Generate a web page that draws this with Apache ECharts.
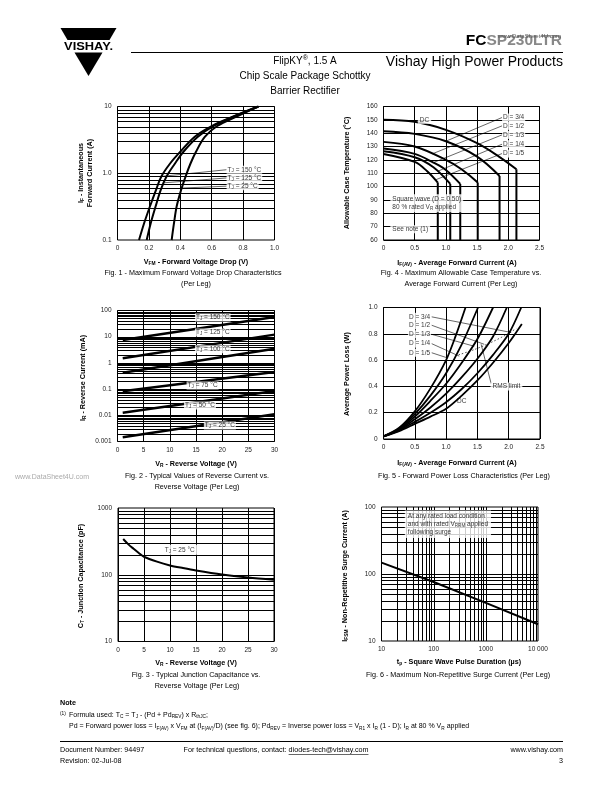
<!DOCTYPE html>
<html>
<head>
<meta charset="utf-8">
<script src="https://cdn.jsdelivr.net/npm/echarts@6.0.0/dist/echarts.min.js"></script>
<style>
html,body{margin:0;padding:0;background:#fff;}
#chart{width:612px;height:792px;}
</style>
</head>
<body>
<div id="chart"></div>
<script>
// ================= DATA =================
// Fig. 1 - forward voltage drop: [V_FM (V), I_F (A)]
const fig1Tj150 = [[0.137,0.1],[0.17,0.18],[0.207,0.32],[0.245,0.56],[0.28,0.9],[0.335,1.4],[0.40,2.1],[0.49,3.5],[0.60,5.1],[0.745,7.2],[0.895,10]];
const fig1Tj125 = [[0.186,0.1],[0.212,0.18],[0.243,0.32],[0.275,0.56],[0.313,0.9],[0.366,1.4],[0.42,2.1],[0.51,3.5],[0.61,5.1],[0.75,7.2],[0.9,10]];
const fig1Tj25  = [[0.345,0.1],[0.36,0.18],[0.377,0.32],[0.405,0.56],[0.434,0.9],[0.465,1.4],[0.50,2.1],[0.556,3.5],[0.635,5.1],[0.765,7.2],[0.895,10]];
const fig1XTicks = ['0','0.2','0.4','0.6','0.8','1.0'];
const fig1YTicks = ['0.1','1.0','10'];
const fig1Labels = [[0.695,1.13,'T{s|J} = 150 °C'],[0.695,0.85,'T{s|J} = 125 °C'],[0.695,0.64,'T{s|J} = 25 °C']];
const fig1Leaders = [[[0.695,1.13],[0.285,0.9]],[[0.695,0.85],[0.297,0.72]],[[0.695,0.64],[0.41,0.6]]];

// Fig. 4 - allowable case temperature: [I_F(AV) (A), T_C (°C)]
const fig4DC  = [[0,150],[0.5,148.5],[1.0,142.5],[1.5,132.5],[1.85,122.5],[2.13,113]];
const fig4D34 = [[0,141.5],[0.5,139.5],[1.0,134],[1.5,122.5],[1.86,108]];
const fig4D12 = [[0,133.5],[0.5,130],[1.0,120],[1.25,113],[1.51,103]];
const fig4D13 = [[0,128.5],[0.5,124.5],[0.8,118],[1.0,112.5],[1.23,102]];
const fig4D14 = [[0,126.5],[0.5,122],[0.8,114.5],[1.07,102]];
const fig4D15 = [[0,124.5],[0.5,118.5],[0.7,111.5],[0.87,103]];
const fig4XTicks = ['0','0.5','1.0','1.5','2.0','2.5'];
const fig4YTicks = ['60','70','80','90','100','110','120','130','140','150','160'];
const fig4Labels = [[1.9,151.75,'D = 3/4'],[1.9,145.5,'D = 1/2'],[1.9,138.75,'D = 1/3'],[1.9,131.75,'D = 1/4'],[1.9,124.75,'D = 1/5']];
const fig4Leaders = [[[1.9,151.75],[1.0,134]],[[1.9,145.5],[0.78,124.5]],[[1.9,138.75],[0.8,118]],[[1.9,131.75],[0.87,111.5]],[[1.9,124.75],[0.83,105]]];

// Fig. 2 - reverse current: [V_R (V), I_R (mA)]
const fig2Tj150 = [[1,7.5],[30,56]];
const fig2Tj125 = [[1,1.5],[30,12]];
const fig2Tj100 = [[1,0.42],[30,3.5]];
const fig2Tj75  = [[1,0.083],[30,0.45]];
const fig2Tj50  = [[1,0.0124],[30,0.085]];
const fig2Tj25  = [[1,0.00146],[30,0.011]];
const fig2XTicks = ['0','5','10','15','20','25','30'];
const fig2YTicks = ['0.001','0.01','0.1','1','10','100'];
const fig2Labels = [[14.8,54,'T{s|J} = 150 °C'],[14.8,14.5,'T{s|J} = 125 °C'],[14.8,3.3,'T{s|J} = 100 °C'],[13.2,0.138,'T{s|J} = 75 °C'],[12.7,0.0236,'T{s|J} = 50 °C'],[16.5,0.0041,'T{s|J} = 25 °C']];

// Fig. 5 - forward power loss: [I_F(AV) (A), P (W)]
const fig5D15 = [[0,0.02],[0.25,0.085],[0.5,0.21],[0.75,0.385],[1.0,0.6],[1.15,0.78],[1.31,1.0]];
const fig5D14 = [[0,0.02],[0.25,0.08],[0.5,0.19],[0.75,0.33],[1.0,0.5],[1.25,0.72],[1.51,1.0]];
const fig5D13 = [[0,0.02],[0.25,0.075],[0.5,0.17],[0.75,0.29],[1.0,0.42],[1.25,0.58],[1.5,0.76],[1.75,1.0]];
const fig5D12 = [[0,0.02],[0.25,0.07],[0.5,0.15],[0.75,0.24],[1.0,0.345],[1.25,0.47],[1.5,0.61],[1.75,0.78],[1.97,1.0]];
const fig5D34 = [[0,0.02],[0.25,0.065],[0.5,0.13],[0.75,0.2],[1.0,0.28],[1.25,0.38],[1.5,0.5],[1.75,0.64],[2.0,0.8],[2.2,1.0]];
const fig5DC  = [[0,0.02],[0.25,0.06],[0.5,0.115],[0.75,0.17],[1.0,0.23],[1.25,0.33],[1.5,0.445],[1.75,0.58],[2.0,0.73],[2.21,0.875]];
const fig5Rms = [[1.2,0.64],[1.45,0.68],[1.7,0.73],[1.95,0.79],[2.12,0.84]];
const fig5XTicks = ['0','0.5','1.0','1.5','2.0','2.5'];
const fig5YTicks = ['0','0.2','0.4','0.6','0.8','1.0'];
const fig5Labels = [[0.76,0.929,'D = 3/4'],[0.76,0.865,'D = 1/2'],[0.76,0.796,'D = 1/3'],[0.76,0.725,'D = 1/4'],[0.76,0.656,'D = 1/5']];
const fig5Leaders = [[[0.77,0.929],[2.04,0.81]],[[0.77,0.865],[1.61,0.72]],[[0.77,0.796],[1.45,0.705]],[[0.77,0.725],[1.21,0.63]],[[0.77,0.656],[1.0,0.62]],[[1.72,0.42],[1.56,0.72]]];

// Fig. 3 - junction capacitance: [V_R (V), C_T (pF)]
const fig3Tj25 = [[1,343],[2,285],[3,245],[4,212],[5,186],[7.5,157],[10,138],[12.5,126],[15,116],[20,101],[25,91],[30,84]];
const fig3XTicks = ['0','5','10','15','20','25','30'];
const fig3YTicks = ['10','100','1000'];

// Fig. 6 - surge current: [t_p (µs), I_FSM (A)]
const fig6Surge = [[10,148],[100,76],[1000,37],[10000,17.8]];
const fig6XTicks = ['10','100','1000','10 000'];
const fig6YTicks = ['10','100','100'];

// ================= HELPERS =================
const FONT = '"Liberation Sans", Arial, Helvetica, sans-serif';
const LRICH = {s:{fontSize:4.6, color:'#000', fontFamily:FONT, verticalAlign:'bottom', lineHeight:8}};

function valAxis(gi, min, max, interval, ticks, isX) {
  return {type:'value', gridIndex:gi, min, max, interval,
    axisLine:{show:false}, axisTick:{show:false},
    splitLine:{show:true, lineStyle:{color:'#000', width:1}},
    axisLabel:{fontSize:6.5, color:'#222', fontFamily:FONT, margin:isX?5:6, showMinLabel:true, showMaxLabel:true,
      formatter:(v)=>ticks[Math.round((v-min)/interval)]}};
}
function logAxis(gi, min, max, ticks, isX) {
  return {type:'log', logBase:10, gridIndex:gi, min, max,
    axisLine:{show:false}, axisTick:{show:false}, splitLine:{show:false}, minorSplitLine:{show:false},
    axisLabel:{fontSize:6.5, color:'#222', fontFamily:FONT, margin:isX?5:6, showMinLabel:true, showMaxLabel:true,
      formatter:(v)=>ticks[Math.round(Math.log10(v/min))]}};
}
function minorVals(lo, hi) { // 2..9 multiples of each decade strictly inside (lo,hi)
  const out = [];
  for (let d = lo; d < hi; d *= 10) for (let k = 1; k <= 9; k++) { const v = d*k; if (v > lo*1.0001 && v < hi*0.9999) out.push(v); }
  return out;
}
function gridLines(gi, xVals, yVals, xMin, yMin) {
  const data = xVals.map(v=>[v, yMin, 0]).concat(yVals.map(v=>[xMin, v, 1]));
  return {type:'custom', xAxisIndex:gi, yAxisIndex:gi, silent:true, z:1, data, encode:{x:0, y:1},
    renderItem(params, api) {
      const cs = params.coordSys;
      const p = api.coord([api.value(0), api.value(1)]);
      if (api.value(2) === 0) {
        const x = Math.round(p[0]) + 0.5;
        return {type:'line', shape:{x1:x, y1:cs.y, x2:x, y2:cs.y+cs.height}, style:{stroke:'#000', lineWidth:1}};
      }
      const y = Math.round(p[1]) + 0.5;
      return {type:'line', shape:{x1:cs.x, y1:y, x2:cs.x+cs.width, y2:y}, style:{stroke:'#000', lineWidth:1}};
    }};
}
function curve(gi, data, w, smooth) {
  return {type:'line', xAxisIndex:gi, yAxisIndex:gi, data, symbol:'none', silent:true, z:3,
    smooth: smooth === undefined ? 0.3 : smooth, lineStyle:{color:'#000', width:w}};
}
function leader(gi, pts, w) {
  return {type:'line', xAxisIndex:gi, yAxisIndex:gi, data:pts, symbol:'none', silent:true, z:4,
    lineStyle:{color:'#000', width:w||0.6}};
}
function tag(gi, x, y, text, pos, extra) {
  return {type:'scatter', xAxisIndex:gi, yAxisIndex:gi, symbolSize:0, silent:true, z:20,
    data:[[x, y]],
    label:Object.assign({show:true, position:pos||'right', distance:0, formatter:text, color:'#000',
      fontSize:6.5, fontFamily:FONT, lineHeight:8, backgroundColor:'#fff', padding:[0,1,0,1], rich:LRICH}, extra||{})};
}
function mkRich(size, bold, color) {
  const w = bold ? 'bold' : 'normal', c = color || '#000', lh = Math.round(size*1.3);
  return {
    s:{fontSize:size*0.68, fontWeight:w, fontFamily:FONT, fill:c, color:c, verticalAlign:'bottom', lineHeight:lh},
    u:{fontSize:size*0.7, fontWeight:'normal', fontFamily:FONT, fill:c, color:c, verticalAlign:'top', lineHeight:lh},
    g:{fontSize:size, fontWeight:w, fontFamily:FONT, fill:'#888', color:'#888', lineHeight:lh},
    l:{fontSize:size, fontWeight:w, fontFamily:FONT, fill:c, color:c, lineHeight:lh}
  };
}
function T(x, y, text, o) {
  o = o || {};
  const size = o.size || 7.5, bold = !!o.bold, color = o.color || '#000';
  return {type:'text', x, y, rotation:o.rot||0, scaleX:o.sx||1, silent:true, z:100,
    style:{text, fill:color, fontSize:size, fontFamily:FONT, fontWeight:bold?'bold':'normal',
      lineHeight:Math.round(size*1.3),
      align:o.align||'center', verticalAlign:'middle', textAlign:o.align||'center', textVerticalAlign:'middle',
      rich:mkRich(size, bold, color)}};
}
function L(x1, y1, x2, y2, w) {
  return {type:'line', silent:true, z:100, shape:{x1, y1, x2, y2}, style:{stroke:'#000', lineWidth:w||1}};
}

// ================= CHART =================
const grids = [
  {left:117.5, top:106.5, width:157, height:133.5},   // 0: Fig 1
  {left:383.5, top:106.5, width:156, height:133.5},   // 1: Fig 4
  {left:117.5, top:310.5, width:157, height:131},     // 2: Fig 2
  {left:383.5, top:307.5, width:156.5, height:131.5}, // 3: Fig 5
  {left:118,   top:508,   width:156, height:133.5},   // 4: Fig 3
  {left:381.5, top:507,   width:156.5, height:134}    // 5: Fig 6
].map(g => Object.assign({show:true, borderColor:'#000', borderWidth:1, backgroundColor:'transparent'}, g));

const xAxes = [
  valAxis(0, 0, 1, 0.2, fig1XTicks, true),
  valAxis(1, 0, 2.5, 0.5, fig4XTicks, true),
  valAxis(2, 0, 30, 5, fig2XTicks, true),
  valAxis(3, 0, 2.5, 0.5, fig5XTicks, true),
  valAxis(4, 0, 30, 5, fig3XTicks, true),
  logAxis(5, 10, 10000, fig6XTicks, true)
];
const yAxes = [
  logAxis(0, 0.1, 10, fig1YTicks, false),
  valAxis(1, 60, 160, 10, fig4YTicks, false),
  logAxis(2, 0.001, 100, fig2YTicks, false),
  valAxis(3, 0, 1, 0.2, fig5YTicks, false),
  logAxis(4, 10, 1000, fig3YTicks, false),
  logAxis(5, 10, 1000, fig6YTicks, false)
];

const series = [];
// Fig 1
series.push(gridLines(0, [], minorVals(0.1, 10), 0, 0.1));
[fig1Tj150, fig1Tj125, fig1Tj25].forEach(d => series.push(curve(0, d, 2, 0.35)));
fig1Leaders.forEach(p => series.push(leader(0, p)));
fig1Labels.forEach(l => series.push(tag(0, l[0], l[1], l[2])));
// Fig 4
[fig4DC, fig4D34, fig4D12, fig4D13, fig4D14, fig4D15].forEach(d => {
  series.push(curve(1, d, 2, 0.35));
  const e = d[d.length-1];
  series.push(curve(1, [e, [e[0], 60]], 2, false));
});
fig4Leaders.forEach(p => series.push(leader(1, p)));
fig4Labels.forEach(l => series.push(tag(1, l[0], l[1], l[2])));
series.push(tag(1, 0.55, 150, 'DC', 'right', {padding:[0,2,0,2]}));
series.push(tag(1, 0.11, 87.5, 'Square wave (D = 0.50)\n80 % rated V{s|R} applied', 'right', {padding:[1,2,1,2]}));
series.push(tag(1, 0.11, 68, 'See note (1)', 'right', {padding:[0,2,0,2]}));
// Fig 2
series.push(gridLines(2, [], minorVals(0.001, 100), 0, 0.001));
[fig2Tj150, fig2Tj125, fig2Tj100, fig2Tj75, fig2Tj50, fig2Tj25].forEach(d => series.push(curve(2, d, 2.5, false)));
fig2Labels.forEach(l => series.push(tag(2, l[0], l[1], l[2])));
// Fig 5
[fig5D15, fig5D14, fig5D13, fig5D12, fig5D34, fig5DC].forEach(d => series.push(curve(3, d, 1.8, 0.3)));
series.push({type:'line', xAxisIndex:3, yAxisIndex:3, data:fig5Rms, symbol:'none', silent:true, z:4, smooth:0.3,
  lineStyle:{color:'#000', width:0.7, type:[1.5,2]}});
fig5Leaders.forEach(p => series.push(leader(3, p)));
fig5Labels.forEach(l => series.push(tag(3, l[0], l[1], l[2], 'left')));
series.push(tag(3, 1.71, 0.40, 'RMS limit', 'right', {padding:[0,2,0,2]}));
series.push(tag(3, 1.25, 0.285, 'DC', 'inside', {backgroundColor:'transparent'}));
// Fig 3
series.push(gridLines(4, [], minorVals(10, 1000), 0, 10));
series.push(curve(4, fig3Tj25, 2, 0.3));
series.push(tag(4, 8.4, 237, 'T{s|J} = 25 °C', 'right', {padding:[1,3,1,3]}));
// Fig 6
series.push(gridLines(5, minorVals(10, 10000), minorVals(10, 1000), 10, 10));
series.push(curve(5, fig6Surge, 2, false));
series.push(tag(5, 28, 552, 'At any rated load condition\nand with rated V{s|RRM} applied\nfollowing surge', 'right', {padding:[2,3,2,3], lineHeight:7.8}));

// ================= PAGE TEXT =================
const R90 = Math.PI / 2;
const graphic = [
  // logo
  {type:'polygon', silent:true, shape:{points:[[60.5,28],[116.5,28],[109.5,40],[67.5,40]]}, style:{fill:'#000'}},
  {type:'polygon', silent:true, shape:{points:[[74.5,52.5],[102.5,52.5],[88.5,76]]}, style:{fill:'#000'}},
  T(88.5, 46.5, 'VISHAY.', {size:11.5, bold:true, sx:1.12}),
  L(131, 52.5, 563, 52.5, 1),
  T(562, 41, 'FC{g|SP230LTR}', {size:15.5, bold:true, align:'right'}),
  T(561, 36, 'www.DataSheet4U.com', {size:6, color:'#555', align:'right'}),
  T(563, 62, 'Vishay High Power Products', {size:14, align:'right'}),
  T(305, 61.5, 'FlipKY{u|®}, 1.5 A', {size:10}),
  T(305, 76, 'Chip Scale Package Schottky', {size:10}),
  T(305, 91, 'Barrier Rectifier', {size:10}),

  // Fig 1 texts
  T(85.5, 173, 'I{s|F} - Instantaneous\nForward Current (A)', {size:7.2, bold:true, rot:R90}),
  T(196, 262, 'V{s|FM} - Forward Voltage Drop (V)', {size:7.2, bold:true}),
  T(193, 273, 'Fig. 1 - Maximum Forward Voltage Drop Characteristics', {size:7.2}),
  T(196, 284, '(Per Leg)', {size:7.2}),
  // Fig 4 texts
  T(347, 173, 'Allowable Case Temperature (°C)', {size:7.2, bold:true, rot:R90}),
  T(457, 263, 'I{s|F(AV)} - Average Forward Current (A)', {size:7.2, bold:true}),
  T(461, 273, 'Fig. 4 - Maximum Allowable Case Temperature vs.', {size:7.2}),
  T(461, 284, 'Average Forward Current (Per Leg)', {size:7.2}),
  // Fig 2 texts
  T(83, 378, 'I{s|R} - Reverse Current (mA)', {size:7.2, bold:true, rot:R90}),
  T(196, 464, 'V{s|R} - Reverse Voltage (V)', {size:7.2, bold:true}),
  T(197, 476, 'Fig. 2 - Typical Values of Reverse Current vs.', {size:7.2}),
  T(197, 487, 'Reverse Voltage (Per Leg)', {size:7.2}),
  T(52, 477, 'www.DataSheet4U.com', {size:7, color:'#aaa'}),
  // Fig 5 texts
  T(347, 374, 'Average Power Loss (W)', {size:7.2, bold:true, rot:R90}),
  T(457, 463, 'I{s|F(AV)} - Average Forward Current (A)', {size:7.2, bold:true}),
  T(464, 476, 'Fig. 5 - Forward Power Loss Characteristics (Per Leg)', {size:7.2}),
  // Fig 3 texts
  T(81, 576, 'C{s|T} - Junction Capacitance (pF)', {size:7.2, bold:true, rot:R90}),
  T(196, 663, 'V{s|R} - Reverse Voltage (V)', {size:7.2, bold:true}),
  T(196, 675, 'Fig. 3 - Typical Junction Capacitance vs.', {size:7.2}),
  T(197, 686, 'Reverse Voltage (Per Leg)', {size:7.2}),
  // Fig 6 texts
  T(345, 576, 'I{s|FSM} - Non-Repetitive Surge Current (A)', {size:7.2, bold:true, rot:R90}),
  T(459, 662, 't{s|p} - Square Wave Pulse Duration (µs)', {size:7.2, bold:true}),
  T(458, 675, 'Fig. 6 - Maximum Non-Repetitive Surge Current (Per Leg)', {size:7.2}),

  // Note
  T(60, 703, 'Note', {size:7.2, bold:true, align:'left'}),
  T(60, 713.5, '(1)', {size:4.8, align:'left'}),
  T(69, 715, 'Formula used: T{s|C} = T{s|J} - (Pd + Pd{s|REV}) x R{s|thJC};', {size:7, align:'left'}),
  T(69, 726.5, 'Pd = Forward power loss = I{s|F(AV)} x V{s|FM} at (I{s|F(AV)}/D) (see fig. 6); Pd{s|REV} = Inverse power loss = V{s|R1} x I{s|R} (1 - D); I{s|R} at 80 % V{s|R} applied', {size:7, align:'left'}),
  L(60, 741.5, 563, 741.5, 1),
  T(60, 750, 'Document Number: 94497', {size:7.2, align:'left'}),
  T(60, 761, 'Revision: 02-Jul-08', {size:7.2, align:'left'}),
  T(276, 750, 'For technical questions, contact: diodes-tech@vishay.com', {size:7.2}),
  T(563, 750, 'www.vishay.com', {size:7.2, align:'right'}),
  T(563, 761, '3', {size:7.2, align:'right'})
];

const chart = echarts.init(document.getElementById('chart'), null, {renderer:'canvas', width:612, height:792});
chart.setOption({
  animation:false,
  backgroundColor:'#fff',
  grid:grids,
  xAxis:xAxes,
  yAxis:yAxes,
  series,
  graphic
});
// underline the e-mail address (measured from the rendered text width)
(function(){
  const ctx = document.createElement('canvas').getContext('2d');
  ctx.font = '7.2px ' + FONT;
  const full = ctx.measureText('For technical questions, contact: diodes-tech@vishay.com').width;
  const mail = ctx.measureText('diodes-tech@vishay.com').width;
  const right = 276 + full/2;
  chart.setOption({graphic: graphic.concat([L(right - mail, 754.5, right, 754.5, 0.6)])});
})();
</script>
</body>
</html>
